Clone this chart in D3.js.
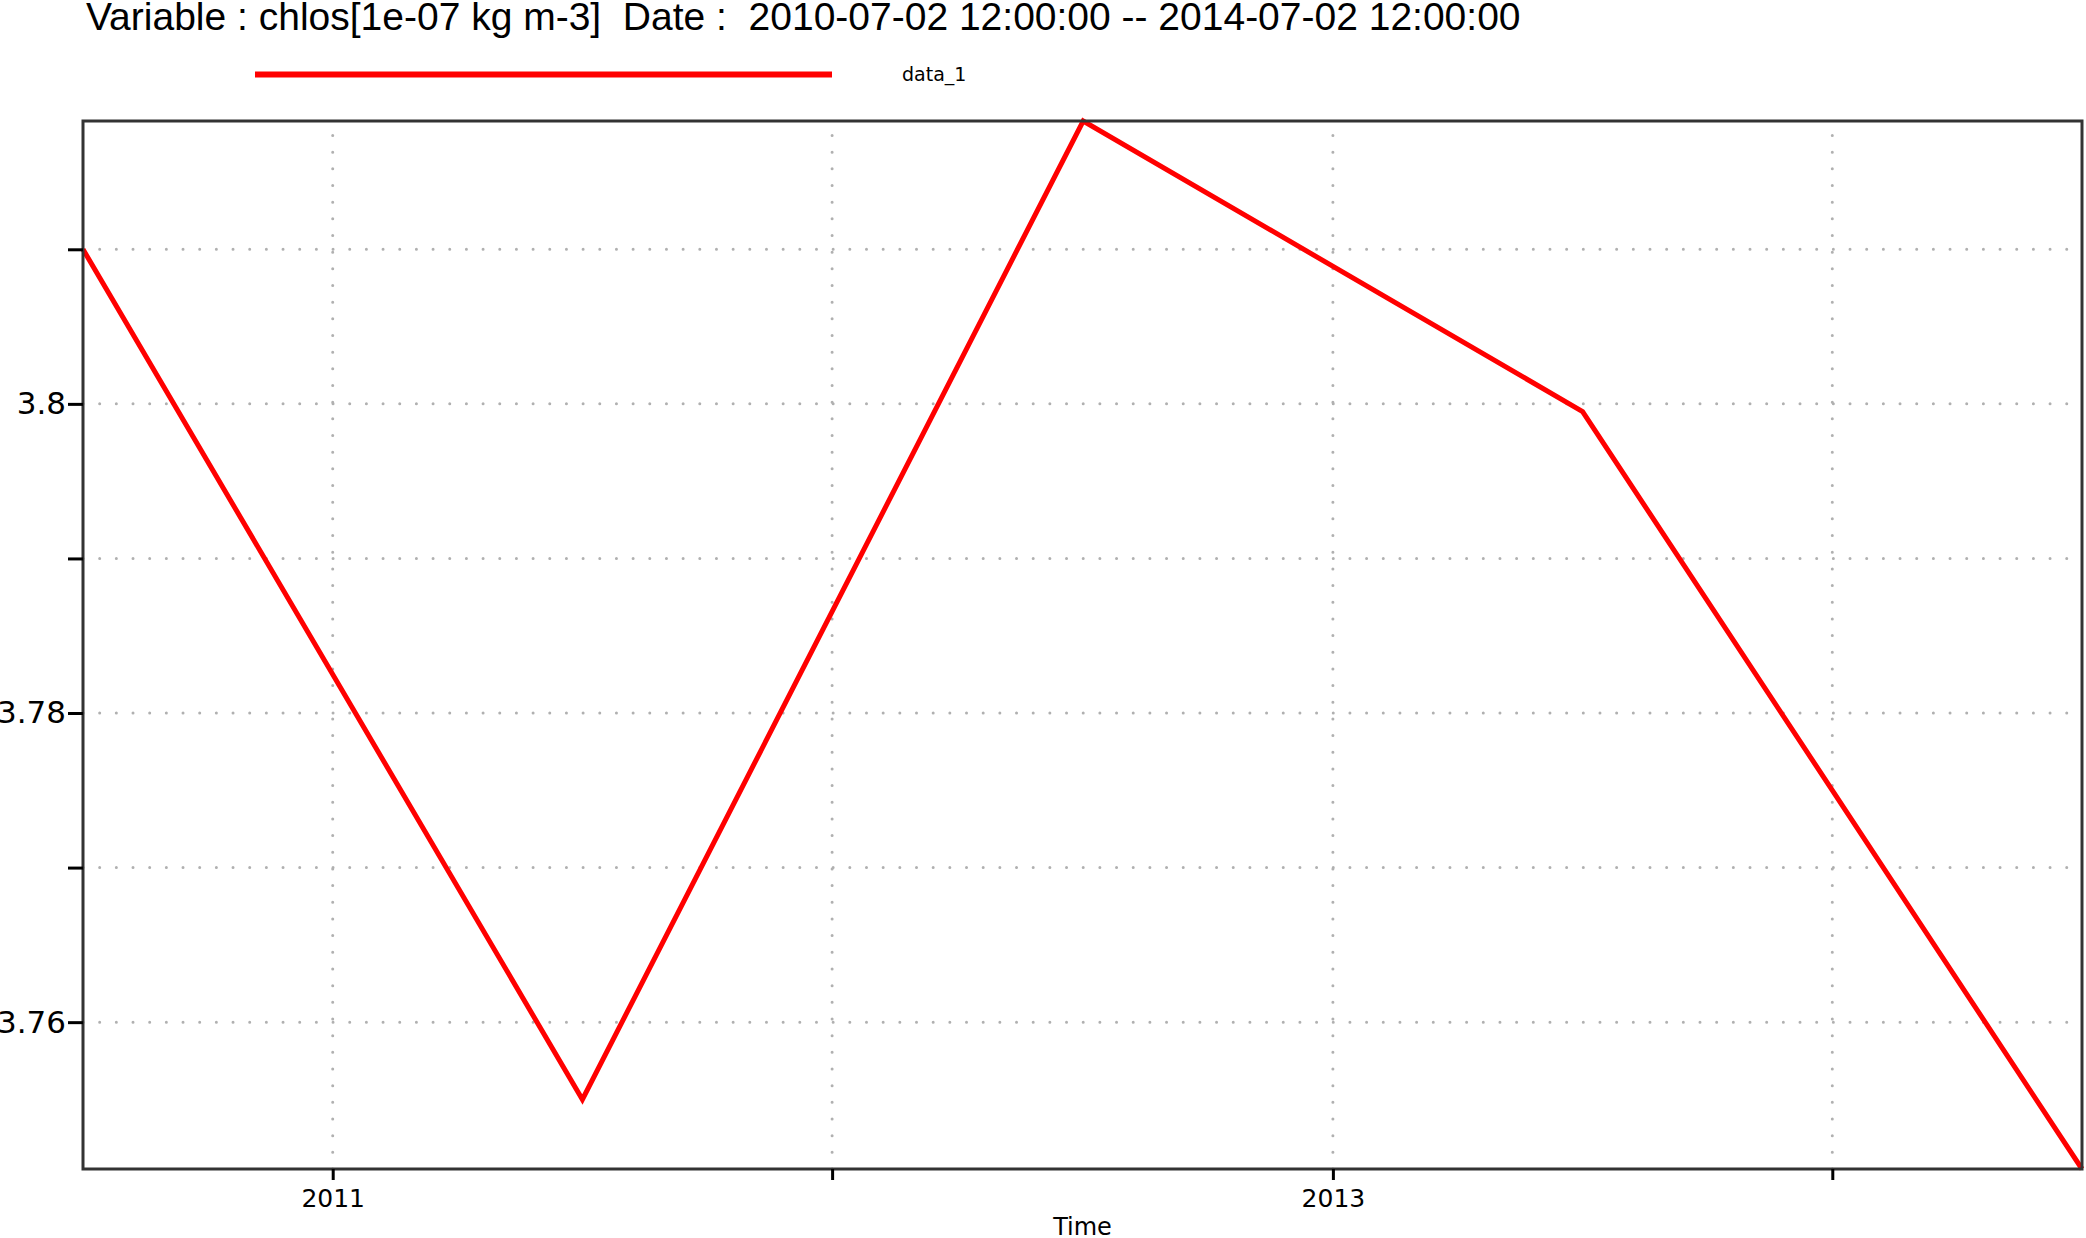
<!DOCTYPE html>
<html>
<head>
<meta charset="utf-8">
<script src="https://cdn.jsdelivr.net/npm/d3@7"></script>
<style>
  body { margin: 0; background: #fff; }
  text { white-space: pre; }
</style>
</head>
<body>
<script>
// yearly means
let dates = ["2010-07-02T12:00:00Z", "2011-07-02T12:00:00Z", "2012-07-02T12:00:00Z", "2013-07-02T12:00:00Z", "2014-07-02T12:00:00Z"];
let values = [3.8100, 3.7550, 3.8183, 3.7995, 3.7505];

let yTicks = [3.76, 3.77, 3.78, 3.79, 3.80, 3.81];
let yTickLabels = ["3.76", "", "3.78", "", "3.8", ""];
let xTicks = ["2011-01-01T00:00:00Z", "2012-01-01T00:00:00Z", "2013-01-01T00:00:00Z", "2014-01-01T00:00:00Z"];
let xTickLabels = ["2011", "", "2013", ""];

let titleText = "Variable : chlos[1e-07 kg m-3]  Date :  2010-07-02 12:00:00 -- 2014-07-02 12:00:00";
let seriesName = "data_1";

let width = 2086,
    height = 1238,
    plotLeft = 83, plotRight = 2082, plotTop = 121, plotBottom = 1169;

let parse = d3.isoParse;
let points = dates.map((d, i) => ({date: parse(d), value: values[i]}));

let x = d3.scaleUtc()
    .domain([points[0].date, points[points.length - 1].date])
    .range([plotLeft, plotRight]);

let y = d3.scaleLinear()
    .domain([d3.min(values), d3.max(values)])
    .range([plotBottom, plotTop]);

let svg = d3.select("body").append("svg")
    .attr("width", width)
    .attr("height", height);

// title
svg.append("text")
    .attr("x", 86)
    .attr("y", 30)
    .attr("font-family", "Liberation Sans, Arial, sans-serif")
    .attr("font-size", 39)
    .attr("fill", "#000")
    .text(titleText);

// legend
svg.append("line")
    .attr("x1", 255).attr("x2", 832)
    .attr("y1", 74.5).attr("y2", 74.5)
    .attr("stroke", "#ff0000")
    .attr("stroke-width", 6);

svg.append("text")
    .attr("x", 902)
    .attr("y", 81)
    .attr("font-family", "DejaVu Sans, sans-serif")
    .attr("font-size", 19)
    .text(seriesName);

// dotted grid
let grid = svg.append("g")
    .attr("stroke", "#b0b0b0")
    .attr("stroke-width", 3)
    .attr("stroke-linecap", "round")
    .attr("stroke-dasharray", "0,16.67");

grid.selectAll(".hgrid")
    .data(yTicks)
    .enter()
    .append("line")
    .attr("x1", plotLeft).attr("x2", plotRight)
    .attr("y1", d => y(d)).attr("y2", d => y(d));

grid.selectAll(".vgrid")
    .data(xTicks.map(parse))
    .enter()
    .append("line")
    .attr("x1", d => x(d)).attr("x2", d => x(d))
    .attr("y1", plotBottom).attr("y2", plotTop);

// the series
let line = d3.line()
    .x(d => x(d.date))
    .y(d => y(d.value));

svg.append("path")
    .datum(points)
    .attr("d", line)
    .attr("fill", "none")
    .attr("stroke", "#ff0000")
    .attr("stroke-width", 5);

// frame
svg.append("rect")
    .attr("x", plotLeft)
    .attr("y", plotTop)
    .attr("width", plotRight - plotLeft)
    .attr("height", plotBottom - plotTop)
    .attr("fill", "none")
    .attr("stroke", "#333333")
    .attr("stroke-width", 3);

// axes
let yAxis = d3.axisLeft(y)
    .tickValues(yTicks)
    .tickFormat((d, i) => yTickLabels[i])
    .tickSize(15)
    .tickPadding(2);

let xAxis = d3.axisBottom(x)
    .tickValues(xTicks.map(parse))
    .tickFormat((d, i) => xTickLabels[i])
    .tickSize(11)
    .tickPadding(9);

let yg = svg.append("g")
    .attr("transform", `translate(${plotLeft},0)`)
    .call(yAxis);

let xg = svg.append("g")
    .attr("transform", `translate(0,${plotBottom})`)
    .call(xAxis);

[yg, xg].forEach(g => {
    g.select(".domain").remove();
    g.selectAll(".tick line").attr("stroke", "#000").attr("stroke-width", 3);
    g.selectAll(".tick text")
        .attr("fill", "#000")
        .attr("font-family", "DejaVu Sans, sans-serif");
});
yg.selectAll(".tick text").attr("font-size", 31);
xg.selectAll(".tick text").attr("font-size", 25);

svg.append("text")
    .attr("x", (plotLeft + plotRight) / 2)
    .attr("y", 1235)
    .attr("text-anchor", "middle")
    .attr("font-family", "DejaVu Sans, sans-serif")
    .attr("font-size", 24)
    .text("Time");
</script>
</body>
</html>
